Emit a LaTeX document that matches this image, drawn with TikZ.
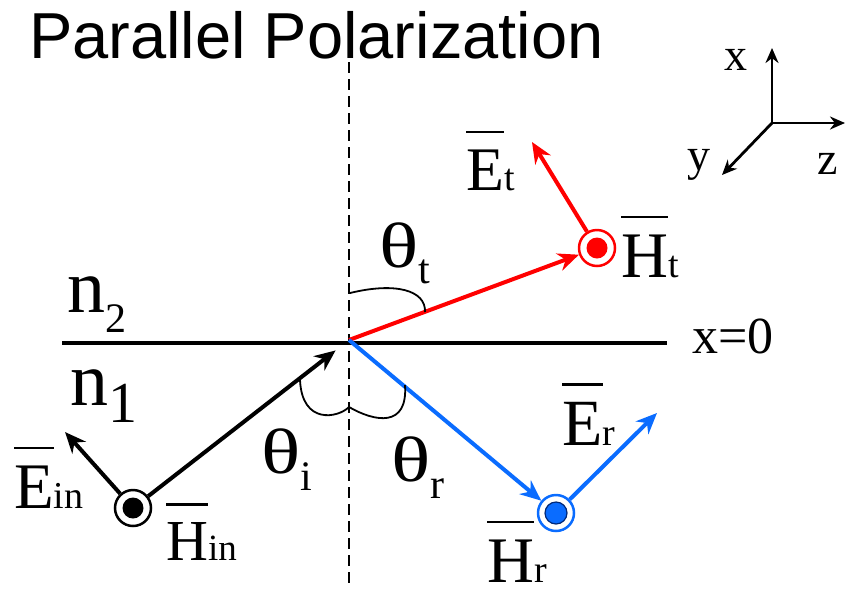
\documentclass[tikz,border=0pt]{standalone}
\usepackage{fontspec}
\usepackage{graphicx}
\setmainfont{Liberation Serif}
\newfontfamily\titlefont{Liberation Sans}
\usetikzlibrary{arrows.meta}
\definecolor{tred}{RGB}{255,0,0}
\definecolor{rblue}{RGB}{10,108,255}
\definecolor{dotedge}{RGB}{0,40,120}
\newcommand\fs[1]{\fontsize{#1}{#1}\selectfont}
\newcommand\ovl[1]{\setbox0\hbox{#1}\vbox{\hrule width\wd0 height 2.6pt\kern 16pt\box0}}
\newcommand\wth{\scalebox{1.28}[1]{θ}}
\begin{document}
\begin{tikzpicture}[x=1pt,y=-1pt,
  lbl/.style={inner sep=0pt, anchor=base west},
  vec/.style={line width=4pt, -{Stealth[length=21pt,width=18pt]}},
  axis/.style={line width=2.8pt, -{Stealth[length=15pt,width=13pt]}},
  hring/.style 2 args={circle, draw=#1, line width=2.5pt, minimum size=36pt, inner sep=0pt, fill=white,
     path picture={\fill[#2] (path picture bounding box.center) circle (10.5pt);}},
  curve/.style={line width=1.8pt},
]
\useasboundingbox (0,0) rectangle (845,590);

% title
\node[lbl] (title) at (29,58) {\titlefont\fs{65}Parallel Polarization};

% interface and normal
\coordinate (ileft) at (62,343);
\coordinate (iright) at (667,343);
\coordinate (dtop) at (349,62);
\coordinate (dbot) at (349,588);
\coordinate (O) at (349,340);
\draw[line width=2pt, dash pattern=on 11pt off 6pt] (dtop) -- (dbot);
\draw[line width=3.3pt] (ileft) -- (iright);

% field symbols
\node[hring={black}{black}] (Hin) at (133,508) {};
\node[hring={tred}{tred}] (Ht) at (597,248) {};
\node[hring={rblue}{rblue}, path picture={\filldraw[fill=rblue, draw=dotedge, line width=1.2pt] (path picture bounding box.center) circle (11pt);}] (Hr) at (556,513) {};

\coordinate (Ein tip) at (65,432);
\coordinate (Et tip) at (532,142);
\coordinate (Er tip) at (657,413);

% wave vectors
\draw[vec, shorten >=17pt] (Hin) -- (O);
\draw[vec, tred] (O) -- (Ht);
\draw[vec, rblue] (O) -- (Hr);
% E vectors
\draw[vec] (Hin) -- (Ein tip);
\draw[vec, tred] (Ht) -- (Et tip);
\draw[vec, rblue] (Hr) -- (Er tip);

% angle marks
\draw[curve] (300,380) .. controls (302,425) and (338,418) .. (349,407);
\draw[curve] (349,407) .. controls (375,422) and (408,428) .. (405,385);
\draw[curve] (350,293) .. controls (395,282) and (426,290) .. (425,312);

% labels
\node[lbl] (n2) at (67,312) {\fs{76}n\raisebox{-20pt}{\fs{42}2}};
\node[lbl] (n1) at (70,405) {\fs{76}n\raisebox{-17pt}{\fs{58}1}};
\node[lbl] (x0) at (692,353) {\fs{52}x=0};

\node[lbl] (Ein) at (14,508) {\ovl{\fs{65}E}\fs{38}in};
\node[lbl] (HinL) at (166,560) {\ovl{\fs{58}H}\fs{37}in};
\node[lbl] (EtL) at (466,190) {\ovl{\fs{62}E}\fs{38}t};
\node[lbl] (HtL) at (621,277) {\ovl{\fs{65}H}\fs{38}t};
\node[lbl] (ErL) at (562,445) {\ovl{\fs{66}E}\fs{38}r};
\node[lbl] (HrL) at (487,582) {\ovl{\fs{65}H}\fs{38}r};

\node[lbl] (thi) at (261,473) {\fs{64}\wth\raisebox{-17pt}{\fs{42}i}};
\node[lbl] (thr) at (391,481) {\fs{64}\wth\raisebox{-17pt}{\fs{42}r}};
\node[lbl] (tht) at (379,267) {\fs{64}\wth\raisebox{-16pt}{\fs{42}t}};

% axes
\coordinate (ax0) at (772,123);
\coordinate (axx) at (772,48);
\coordinate (axz) at (845,123);
\coordinate (axy) at (722,175);
\draw[axis] (ax0) -- (axx);
\draw[axis] (ax0) -- (axz);
\draw[axis] (ax0) -- (axy);
\node[lbl] (xl) at (724,70) {\fs{46}x};
\node[lbl] (yl) at (687,170) {\fs{46}y};
\node[lbl] (zl) at (817,174) {\fs{46}z};
\end{tikzpicture}
\end{document}
